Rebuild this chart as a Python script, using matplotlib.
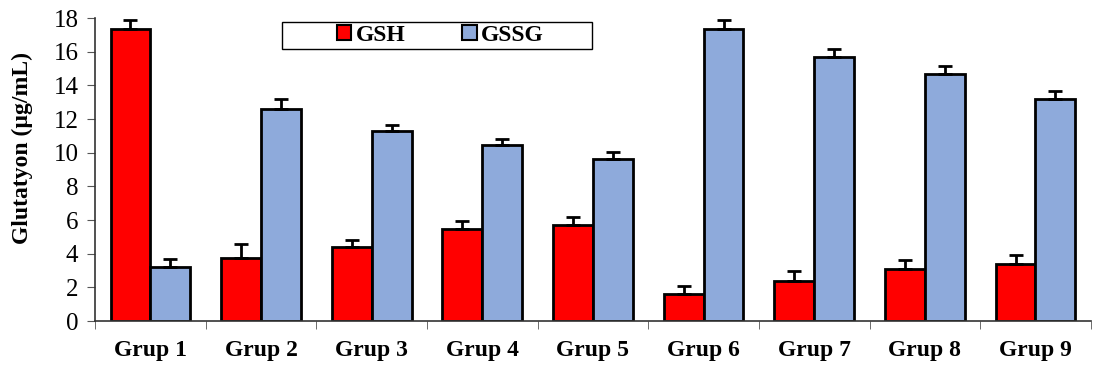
import numpy as np
import matplotlib.pyplot as plt
from matplotlib.patches import Rectangle
from matplotlib.ticker import MultipleLocator, FixedLocator

plt.rcParams['font.family'] = 'Liberation Serif'

groups = ['Grup 1', 'Grup 2', 'Grup 3', 'Grup 4', 'Grup 5',
          'Grup 6', 'Grup 7', 'Grup 8', 'Grup 9']
gsh = [17.35, 3.75, 4.4, 5.47, 5.7, 1.6, 2.4, 3.1, 3.4]
gsh_err = [0.55, 0.8, 0.4, 0.5, 0.5, 0.5, 0.6, 0.55, 0.5]
gssg = [3.2, 12.6, 11.3, 10.45, 9.6, 17.35, 15.7, 14.7, 13.2]
gssg_err = [0.5, 0.6, 0.35, 0.35, 0.45, 0.55, 0.45, 0.45, 0.45]

fig = plt.figure(figsize=(10.93, 3.69), dpi=100)
ax = fig.add_axes([0.087, 0.130, 0.911, 0.821])

x = np.arange(len(groups))
w = 0.36
ekw = dict(elinewidth=2, capthick=2, ecolor='black')
ax.bar(x - w / 2, gsh, w, color='#ff0000', edgecolor='black', linewidth=2,
       yerr=[np.zeros(len(gsh)), gsh_err], capsize=5, error_kw=ekw, label='GSH')
ax.bar(x + w / 2, gssg, w, color='#8eaadb', edgecolor='black', linewidth=2,
       yerr=[np.zeros(len(gssg)), gssg_err], capsize=5, error_kw=ekw, label='GSSG')

ax.set_xlim(-0.5, len(groups) - 0.5)
ax.set_ylim(0, 18)
ax.yaxis.set_major_locator(MultipleLocator(2))
ax.set_xticks(x)
ax.set_xticklabels(groups, fontweight='bold', fontsize=17)
ax.xaxis.set_minor_locator(FixedLocator(np.arange(len(groups) + 1) - 0.5))
ax.tick_params(axis='x', which='major', length=0, pad=14)
ax.tick_params(axis='x', which='minor', length=6, direction='out', color='#555555')
ax.tick_params(axis='y', length=6, labelsize=18, color='#555555', pad=6)
ax.set_ylabel('Glutatyon (µg/mL)', fontweight='bold', fontsize=17)
ax.yaxis.set_label_coords(-0.062, 0.571)

for s in ['top', 'right']:
    ax.spines[s].set_visible(False)
for s in ['left', 'bottom']:
    ax.spines[s].set_color('#333333')
    ax.spines[s].set_linewidth(1.2)

# legend box drawn separately so the entries can sit inside a wider frame
ax.add_patch(Rectangle((0.1878, 0.898), 0.311, 0.089, transform=ax.transAxes,
                       facecolor='white', edgecolor='black', linewidth=1,
                       clip_on=False, zorder=4))
leg = ax.legend(ncol=2, loc='center left', bbox_to_anchor=(0.243, 0.942),
                frameon=False, prop=dict(weight='bold', size=17),
                handlelength=0.6, handleheight=0.6, columnspacing=2.4,
                handletextpad=0.2, borderpad=0, borderaxespad=0)
leg.set_zorder(5)
for h in leg.legend_handles:
    h.set_linewidth(1.5)

fig.savefig('out.png', dpi=100)
